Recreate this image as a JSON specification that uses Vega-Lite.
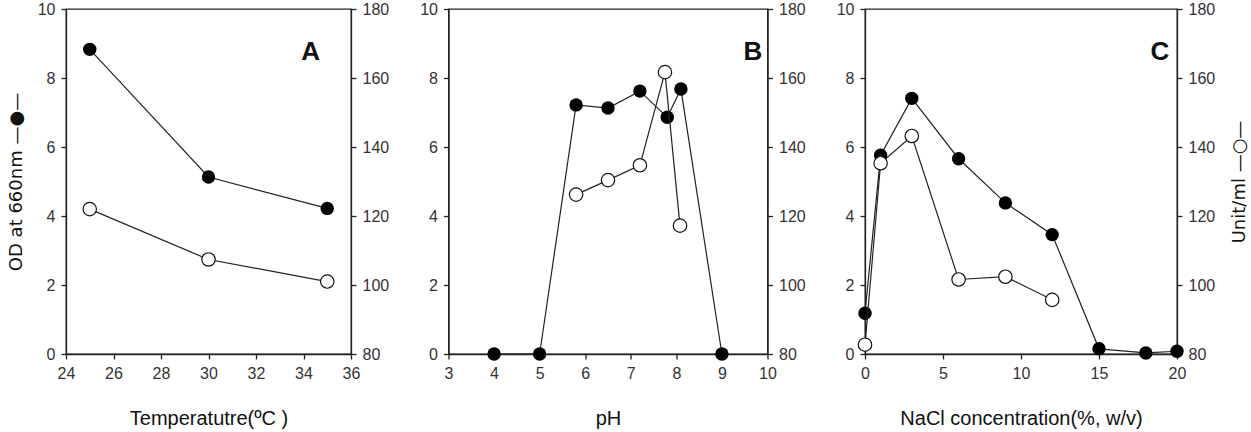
{
  "$schema": "https://vega.github.io/schema/vega-lite/v6.json",
  "background": "white",
  "padding": {"left": 6, "top": 0, "right": 0, "bottom": 0},
  "bounds": "flush",
  "spacing": 97.5,
  "datasets": {
    "tempOD": [{"t": 25, "od": 8.83}, {"t": 30, "od": 5.13}, {"t": 35, "od": 4.22}],
    "tempUnit": [{"t": 25, "u": 122}, {"t": 30, "u": 107.4}, {"t": 35, "u": 101}],
    "phOD": [{"ph": 4, "od": 0}, {"ph": 5, "od": 0}, {"ph": 5.8, "od": 7.22}, {"ph": 6.5, "od": 7.13}, {"ph": 7.2, "od": 7.62}, {"ph": 7.8, "od": 6.86}, {"ph": 8.1, "od": 7.68}, {"ph": 9, "od": 0}],
    "phUnit": [{"ph": 5.8, "u": 126.2}, {"ph": 6.5, "u": 130.4}, {"ph": 7.2, "u": 134.7}, {"ph": 7.75, "u": 161.7}, {"ph": 8.08, "u": 117.2}],
    "naclOD": [{"n": 0, "od": 1.18}, {"n": 1, "od": 5.76}, {"n": 3, "od": 7.41}, {"n": 6, "od": 5.66}, {"n": 9, "od": 4.38}, {"n": 12, "od": 3.46}, {"n": 15, "od": 0.15}, {"n": 18, "od": 0.03}, {"n": 20, "od": 0.08}],
    "naclUnit": [{"n": 0, "u": 82.7}, {"n": 1, "u": 135.3}, {"n": 3, "u": 143.2}, {"n": 6, "u": 101.6}, {"n": 9, "u": 102.4}, {"n": 12, "u": 95.7}],
    "labA": [{"t": 34.3, "od": 8.75, "label": "A"}],
    "labB": [{"ph": 9.68, "od": 8.75, "label": "B"}],
    "labC": [{"n": 18.9, "od": 8.75, "label": "C"}]
  },
  "hconcat": [
    {
      "width": 285, "height": 345,
      "layer": [
        {
          "encoding": {
            "x": {"field": "t", "type": "quantitative", "scale": {"domain": [24, 36], "nice": false}, "axis": {"values": [24, 26, 28, 30, 32, 34, 36], "title": "Temperatutre(ºC  )"}},
            "y": {"field": "od", "type": "quantitative", "scale": {"domain": [0, 10], "nice": false}, "axis": {"values": [0, 2, 4, 6, 8, 10], "title": "OD at 660nm —●—", "titleFont": "DejaVu Sans", "titleFontSize": 18, "titlePadding": 12}}
          },
          "layer": [
            {"data": {"name": "tempOD"}, "mark": {"type": "line", "color": "#222", "strokeWidth": 1.2}},
            {"data": {"name": "tempOD"}, "mark": {"type": "point", "filled": true, "color": "#000", "size": 180, "opacity": 1}},
            {"data": {"name": "labA"}, "mark": {"type": "text", "fontSize": 26, "fontWeight": "bold", "align": "center", "baseline": "middle", "color": "#111"}, "encoding": {"text": {"field": "label"}}}
          ]
        },
        {
          "data": {"name": "tempUnit"},
          "encoding": {
            "x": {"field": "t", "type": "quantitative", "scale": {"domain": [24, 36], "nice": false}},
            "y": {"field": "u", "type": "quantitative", "scale": {"domain": [80, 180], "nice": false}, "axis": {"orient": "right", "values": [80, 100, 120, 140, 160, 180], "title": null}}
          },
          "layer": [
            {"mark": {"type": "line", "color": "#222", "strokeWidth": 1.2}},
            {"mark": {"type": "point", "filled": true, "fill": "white", "stroke": "#111", "strokeWidth": 1.2, "size": 180, "opacity": 1}}
          ]
        }
      ],
      "resolve": {"scale": {"y": "independent"}}
    },
    {
      "width": 319, "height": 345,
      "layer": [
        {
          "encoding": {
            "x": {"field": "ph", "type": "quantitative", "scale": {"domain": [3, 10], "nice": false}, "axis": {"values": [3, 4, 5, 6, 7, 8, 9, 10], "title": "pH"}},
            "y": {"field": "od", "type": "quantitative", "scale": {"domain": [0, 10], "nice": false}, "axis": {"values": [0, 2, 4, 6, 8, 10], "title": null}}
          },
          "layer": [
            {"data": {"name": "phOD"}, "mark": {"type": "line", "color": "#222", "strokeWidth": 1.2}},
            {"data": {"name": "phOD"}, "mark": {"type": "point", "filled": true, "color": "#000", "size": 180, "opacity": 1}},
            {"data": {"name": "labB"}, "mark": {"type": "text", "fontSize": 26, "fontWeight": "bold", "align": "center", "baseline": "middle", "color": "#111"}, "encoding": {"text": {"field": "label"}}}
          ]
        },
        {
          "data": {"name": "phUnit"},
          "encoding": {
            "x": {"field": "ph", "type": "quantitative", "scale": {"domain": [3, 10], "nice": false}},
            "y": {"field": "u", "type": "quantitative", "scale": {"domain": [80, 180], "nice": false}, "axis": {"orient": "right", "values": [80, 100, 120, 140, 160, 180], "title": null}}
          },
          "layer": [
            {"mark": {"type": "line", "color": "#222", "strokeWidth": 1.2}},
            {"mark": {"type": "point", "filled": true, "fill": "white", "stroke": "#111", "strokeWidth": 1.2, "size": 180, "opacity": 1}}
          ]
        }
      ],
      "resolve": {"scale": {"y": "independent"}}
    },
    {
      "width": 312, "height": 345,
      "layer": [
        {
          "encoding": {
            "x": {"field": "n", "type": "quantitative", "scale": {"domain": [0, 20], "nice": false}, "axis": {"values": [0, 5, 10, 15, 20], "title": "NaCl concentration(%, w/v)"}},
            "y": {"field": "od", "type": "quantitative", "scale": {"domain": [0, 10], "nice": false}, "axis": {"values": [0, 2, 4, 6, 8, 10], "title": null}}
          },
          "layer": [
            {"data": {"name": "naclOD"}, "mark": {"type": "line", "color": "#222", "strokeWidth": 1.2}},
            {"data": {"name": "naclOD"}, "mark": {"type": "point", "filled": true, "color": "#000", "size": 180, "opacity": 1}},
            {"data": {"name": "labC"}, "mark": {"type": "text", "fontSize": 26, "fontWeight": "bold", "align": "center", "baseline": "middle", "color": "#111"}, "encoding": {"text": {"field": "label"}}}
          ]
        },
        {
          "data": {"name": "naclUnit"},
          "encoding": {
            "x": {"field": "n", "type": "quantitative", "scale": {"domain": [0, 20], "nice": false}},
            "y": {"field": "u", "type": "quantitative", "scale": {"domain": [80, 180], "nice": false}, "axis": {"orient": "right", "values": [80, 100, 120, 140, 160, 180], "title": "Unit/ml —○—", "titleFont": "DejaVu Sans", "titleFontSize": 18, "titleAngle": -90, "titlePadding": 34}}
          },
          "layer": [
            {"mark": {"type": "line", "color": "#222", "strokeWidth": 1.2}},
            {"mark": {"type": "point", "filled": true, "fill": "white", "stroke": "#111", "strokeWidth": 1.2, "size": 180, "opacity": 1}}
          ]
        }
      ],
      "resolve": {"scale": {"y": "independent"}}
    }
  ],
  "config": {
    "font": "Liberation Sans",
    "view": {"stroke": "#222", "strokeWidth": 1.3},
    "axis": {
      "grid": false,
      "zindex": 1,
      "ticks": true,
      "domainColor": "#222",
      "domainWidth": 1.3,
      "tickColor": "#222",
      "tickWidth": 1.3,
      "tickSize": 5,
      "tickOpacity": 1,
      "labelFont": "Liberation Sans",
      "labelFontSize": 16,
      "labelColor": "#333",
      "labelFlush": false,
      "labelOverlap": false,
      "titleFont": "Liberation Sans",
      "titleFontSize": 20,
      "titleFontWeight": "normal",
      "titleColor": "#111"
    },
    "axisX": {"labelPadding": 6, "titlePadding": 27},
    "axisY": {"labelPadding": 6}
  }
}
